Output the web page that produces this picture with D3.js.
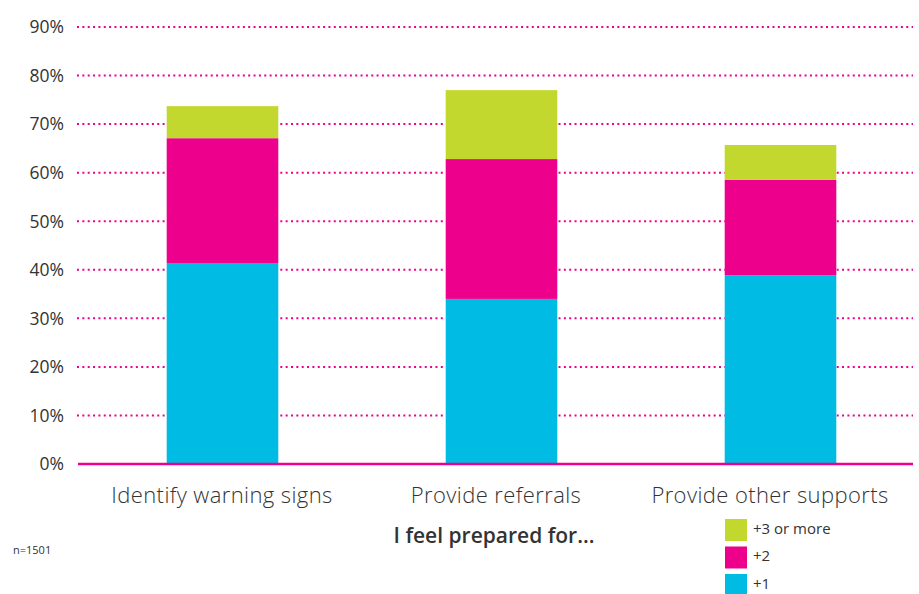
<!DOCTYPE html>
<html lang="en">
<head>
<meta charset="UTF-8">
<title>I feel prepared for...</title>
<style>
  body { margin: 0; background: #fff; }
  text { font-family: "Open Sans", Lato, sans-serif; fill: #333; }
</style>
</head>
<body>
<div class="canvas"></div>
<script src="https://cdnjs.cloudflare.com/ajax/libs/d3/7.8.5/d3.min.js"></script>
<script>
const categories = ["Identify warning signs", "Provide referrals", "Provide other supports"];
const plus1 = [41.4, 34.0, 38.9];
const plus2 = [25.7, 28.8, 19.6];
const plus3 = [6.6, 14.2, 7.2];
const seriesNames = ["+1", "+2", "+3 or more"];
const seriesColors = ["#00BCE4", "#EC008C", "#C3D82F"];
const yTicks = [0, 10, 20, 30, 40, 50, 60, 70, 80, 90];

const width = 919, height = 594;

const rows = categories.map((c, i) => ({ cat: c, "+1": plus1[i], "+2": plus2[i], "+3 or more": plus3[i] }));
const stacked = d3.stack().keys(seriesNames)(rows);

const svg = d3.select(".canvas").append("svg")
    .attr("width", width)
    .attr("height", height);

const x = d3.scaleBand()
    .domain(categories)
    .range([83, 920])
    .paddingInner(0.6)
    .paddingOuter(0.3);

// labels sit a little left of the bar centres in the original
const xLabel = d3.scalePoint()
    .domain(categories)
    .range([222, 770]);

const y = d3.scaleLinear()
    .domain([0, 90])
    .range([464, 27]);

// dotted grid lines
svg.append("g")
    .selectAll("line")
    .data(yTicks.filter(d => d > 0))
    .join("line")
        .attr("x1", 77)
        .attr("x2", 913)
        .attr("y1", d => y(d))
        .attr("y2", d => y(d))
        .attr("stroke", "#EC008C")
        .attr("stroke-width", 2)
        .attr("stroke-dasharray", "2,3.35");

// y tick labels
svg.append("g")
    .selectAll("text")
    .data(yTicks)
    .join("text")
        .attr("x", 64)
        .attr("y", d => y(d))
        .attr("dy", "0.36em")
        .attr("text-anchor", "end")
        .attr("font-size", 17.5)
        .text(d => d + "%");

// stacked bars
svg.append("g")
    .selectAll("g")
    .data(stacked)
    .join("g")
        .attr("fill", (d, i) => seriesColors[i])
    .selectAll("rect")
    .data(d => d)
    .join("rect")
        .attr("x", d => x(d.data.cat))
        .attr("width", x.bandwidth())
        .attr("y", d => y(d[1]))
        .attr("height", d => y(d[0]) - y(d[1]));

// baseline
svg.append("line")
    .attr("x1", 78)
    .attr("x2", 913)
    .attr("y1", y(0))
    .attr("y2", y(0))
    .attr("stroke", "#EC008C")
    .attr("stroke-width", 2.5);

// category labels
svg.append("g")
    .selectAll("text")
    .data(categories)
    .join("text")
        .attr("x", d => xLabel(d))
        .attr("y", 503)
        .attr("text-anchor", "middle")
        .attr("font-size", 22)
        .attr("font-weight", 300)
        .attr("letter-spacing", 0.4)
        .text(d => d);

// axis title
svg.append("text")
    .attr("x", 494)
    .attr("y", 543)
    .attr("text-anchor", "middle")
    .attr("font-size", 21)
    .attr("font-weight", 600)
    .text("I feel prepared for...");

svg.append("text")
    .attr("x", 13)
    .attr("y", 554)
    .attr("font-size", 11)
    .text("n=1501");

// legend, top to bottom: +3 or more, +2, +1
const legendItems = seriesNames.map((n, i) => ({ name: n, color: seriesColors[i] })).reverse();
const legend = svg.append("g")
    .selectAll("g")
    .data(legendItems)
    .join("g")
        .attr("transform", (d, i) => `translate(725, ${519 + i * 27.5})`);

legend.append("rect")
    .attr("width", 22)
    .attr("height", 22)
    .attr("fill", d => d.color);

legend.append("text")
    .attr("x", 28)
    .attr("y", 9.5)
    .attr("dy", "0.36em")
    .attr("font-size", 15)
    .text(d => d.name);
</script>
</body>
</html>
